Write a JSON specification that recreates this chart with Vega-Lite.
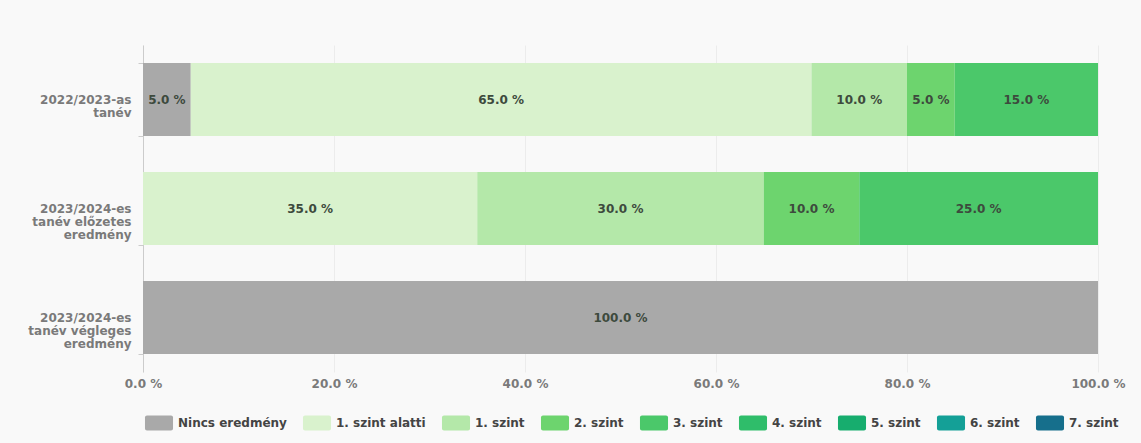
{
  "$schema": "https://vega.github.io/schema/vega-lite/v6.json",
  "autosize": {"type": "none"},
  "width": 955,
  "height": 327,
  "padding": {"left": 143, "top": 45, "right": 43, "bottom": 71},
  "background": "#f9f9f9",
  "config": {
    "view": {"stroke": null},
    "font": "DejaVu Sans"
  },
  "data": {
    "values": [
      {"year": "2022/2023-as tanév", "level": "Nincs eredmény", "order": 0, "value": 5},
      {"year": "2022/2023-as tanév", "level": "1. szint alatti", "order": 1, "value": 65},
      {"year": "2022/2023-as tanév", "level": "1. szint", "order": 2, "value": 10},
      {"year": "2022/2023-as tanév", "level": "2. szint", "order": 3, "value": 5},
      {"year": "2022/2023-as tanév", "level": "3. szint", "order": 4, "value": 15},
      {"year": "2023/2024-es tanév előzetes eredmény", "level": "1. szint alatti", "order": 1, "value": 35},
      {"year": "2023/2024-es tanév előzetes eredmény", "level": "1. szint", "order": 2, "value": 30},
      {"year": "2023/2024-es tanév előzetes eredmény", "level": "2. szint", "order": 3, "value": 10},
      {"year": "2023/2024-es tanév előzetes eredmény", "level": "3. szint", "order": 4, "value": 25},
      {"year": "2023/2024-es tanév végleges eredmény", "level": "Nincs eredmény", "order": 0, "value": 100}
    ]
  },
  "transform": [
    {"stack": "value", "groupby": ["year"], "sort": [{"field": "order"}], "as": ["x0", "x1"]},
    {"calculate": "(datum.x0 + datum.x1) / 2", "as": "mid"},
    {"calculate": "format(datum.value, '.1f') + ' %'", "as": "label"}
  ],
  "encoding": {
    "y": {
      "field": "year",
      "type": "nominal",
      "sort": null,
      "title": null,
      "scale": {"paddingInner": 0.33, "paddingOuter": 0.165},
      "axis": {
        "labelExpr": "datum.value == '2022/2023-as tanév' ? ['2022/2023-as', 'tanév'] : datum.value == '2023/2024-es tanév előzetes eredmény' ? ['2023/2024-es', 'tanév előzetes', 'eredmény'] : datum.value == '2023/2024-es tanév végleges eredmény' ? ['2023/2024-es', 'tanév végleges', 'eredmény'] : ''",
        "labelFontSize": 12,
        "labelFontWeight": "bold",
        "labelColor": "#7a7a7a",
        "labelLineHeight": 13,
        "labelPadding": 7,
        "tickBand": "extent",
        "tickSize": 5,
        "tickColor": "#cccccc",
        "domainColor": "#cccccc",
        "grid": false
      }
    }
  },
  "layer": [
    {
      "mark": {"type": "bar"},
      "encoding": {
        "x": {
          "field": "x0",
          "type": "quantitative",
          "scale": {"domain": [0, 100], "nice": false},
          "title": null,
          "axis": {
            "values": [0, 20, 40, 60, 80, 100],
            "labelExpr": "format(datum.value, '.1f') + ' %'",
            "labelFontSize": 12,
            "labelFontWeight": "bold",
            "labelColor": "#7a7a7a",
            "labelPadding": 6,
            "domain": false,
            "ticks": false,
            "grid": true,
            "gridColor": "#ececec",
            "labelFlush": false
          }
        },
        "x2": {"field": "x1"},
        "color": {
          "field": "level",
          "type": "nominal",
          "scale": {
            "domain": ["Nincs eredmény", "1. szint alatti", "1. szint", "2. szint", "3. szint", "4. szint", "5. szint", "6. szint", "7. szint"],
            "range": ["#a9a9a9", "#d9f2cd", "#b4e8a9", "#6dd46e", "#4bc86a", "#2fbd6a", "#17ad6e", "#14a097", "#166f8c"]
          },
          "legend": {
            "title": null,
            "orient": "none",
            "direction": "horizontal",
            "columns": 9,
            "legendX": 8.5,
            "legendY": 370.5,
            "symbolType": "M-1.6,-1H1.6A0.27,0.27 0 0 1 1.87,-0.73V0.73A0.27,0.27 0 0 1 1.6,1H-1.6A0.27,0.27 0 0 1 -1.87,0.73V-0.73A0.27,0.27 0 0 1 -1.6,-1Z",
            "symbolSize": 225,
            "symbolStrokeWidth": 0,
            "symbolOpacity": 1,
            "labelOffset": 11.5,
            "labelFontSize": 12,
            "labelFontWeight": "bold",
            "labelColor": "#444444",
            "columnPadding": 15
          }
        }
      }
    },
    {
      "mark": {"type": "text", "fontSize": 12, "fontWeight": "bold", "color": "#3d4a3d"},
      "encoding": {
        "x": {"field": "mid", "type": "quantitative"},
        "text": {"field": "label"}
      }
    }
  ]
}
